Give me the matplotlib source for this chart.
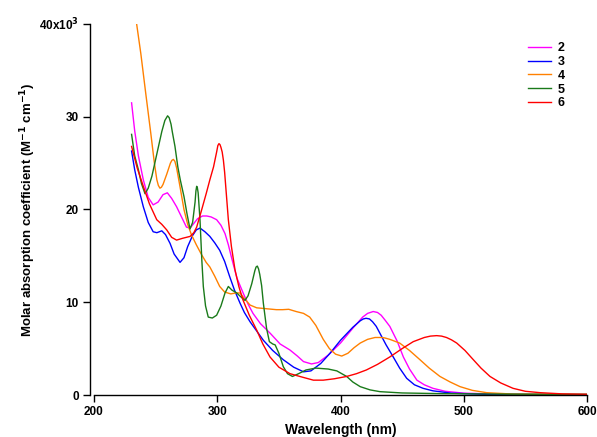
import matplotlib
matplotlib.use("Agg")
import matplotlib.pyplot as plt

# ---- data (wavelength nm, molar absorption coefficient in 10^3 M^-1 cm^-1) ----
wl_2 = [230.5, 233, 236, 240, 244, 248, 252, 256, 259.5, 263, 267, 271, 275, 278, 281, 284, 288,
        291.5, 295, 299.5, 303, 306.3, 309, 312, 316, 321, 325, 329, 335, 343, 351, 359, 365, 370,
        376.5, 382, 390, 400, 410, 418, 422, 426.5, 430, 433, 436, 440, 446, 451, 456, 462, 468, 475,
        485, 500, 530, 600]
eps_2 = [31.5, 28.5, 25.8, 23.2, 21.3, 20.5, 20.8, 21.6, 21.8, 21.2, 20.3, 19.2, 18.1, 18.0, 18.5,
         19.0, 19.3, 19.3, 19.2, 18.9, 18.3, 17.4, 16.2, 14.6, 12.6, 11.0, 9.8, 8.8, 7.7, 6.65, 5.5,
         4.85, 4.2, 3.6, 3.35, 3.5, 4.3, 5.6, 7.2, 8.4, 8.8, 9.0, 8.9, 8.6, 8.1, 7.4, 5.8, 4.1, 2.8,
         1.6, 1.1, 0.72, 0.4, 0.2, 0.08, 0.02]

wl_3 = [230.5, 233, 236, 240, 244, 248, 251, 255, 258, 261.7, 265, 269.8, 273, 276, 280, 283, 286,
        290, 294, 298, 302, 306, 310, 314, 318.5, 322, 326.6, 332, 337.4, 345, 353.6, 362, 370, 376,
        384, 391.5, 400, 410, 416, 418.5, 420.7, 423.5, 426, 429, 432, 437, 442.8, 448, 453.7, 460,
        467, 475, 490, 520, 600]
eps_3 = [26.3, 24.3, 22.4, 20.3, 18.6, 17.6, 17.5, 17.7, 17.3, 16.35, 15.2, 14.3, 14.8, 16.0, 17.2,
         17.8, 18.0, 17.6, 17.1, 16.4, 15.6, 14.4, 12.8, 11.3, 9.9, 8.9, 7.9, 6.9, 5.9, 4.8, 3.8, 3.0,
         2.5, 2.6, 3.4, 4.5, 5.9, 7.3, 8.0, 8.2, 8.27, 8.2, 7.9, 7.4, 6.65, 5.4, 4.1, 2.9, 1.8, 1.1,
         0.72, 0.45, 0.2, 0.06, 0.01]

wl_4 = [234.6, 238, 242, 246, 249, 251, 252.2, 253.5, 254.7, 256, 259, 262, 263.2, 264.4, 265.6,
        267, 270, 273, 276, 279, 283, 287, 291, 294, 298, 302, 306, 311, 315, 318.5, 322, 326.6, 332,
        340, 348, 353, 358, 364, 370, 375, 380, 386, 391, 396, 401, 406, 411, 416, 422, 425, 428, 433,
        436, 440, 448, 456, 464.5, 472, 480.7, 489, 497, 507, 518.6, 540, 600]
eps_4 = [40.0, 36.8, 32.5, 28.3, 25.0, 23.2, 22.6, 22.3, 22.4, 22.7, 23.8, 25.0, 25.3, 25.4, 25.2,
         24.5, 22.3, 20.0, 18.4, 17.3, 16.2, 15.2, 14.3, 13.8, 12.8, 11.7, 11.1, 10.9, 11.0, 11.0,
         10.4, 9.7, 9.4, 9.3, 9.2, 9.2, 9.24, 9.0, 8.8, 8.4, 7.5, 6.0, 5.0, 4.4, 4.2, 4.5, 5.1, 5.6,
         6.0, 6.1, 6.2, 6.2, 6.15, 6.0, 5.6, 4.8, 3.8, 2.9, 2.0, 1.4, 0.9, 0.5, 0.25, 0.1, 0.02]

wl_5 = [230.5, 233, 236, 238.5, 241.4, 244, 247, 251, 255, 257.5, 259.7, 261, 262.5, 263.5, 265.7,
        268, 270, 273, 275.5, 277.9, 280, 282, 282.7, 283.3, 283.8, 284.5, 286, 287.5, 288.7, 290.5,
        292.7, 296, 299.5, 303, 306.3, 309, 312, 315.8, 319, 322.5, 325, 328, 330.5, 331.5, 332.5,
        333.5, 334.5, 336, 337.4, 340, 342.3, 345, 347, 350, 353.6, 357, 361, 366, 372, 380, 390,
        397, 405, 410, 416, 424, 432, 450, 480, 530, 600]
eps_5 = [28.1, 25.8, 24.3, 22.8, 21.7, 22.3, 23.6, 26.0, 28.4, 29.6, 30.1, 29.9, 29.2, 28.4, 26.8,
         24.6, 23.2, 21.4, 19.5, 17.9, 18.6, 20.8, 22.0, 22.5, 22.4, 21.8, 18.9, 14.5, 11.7, 9.6,
         8.4, 8.3, 8.6, 9.6, 11.0, 11.7, 11.3, 11.0, 10.6, 10.2, 10.7, 12.0, 13.4, 13.8, 13.9, 13.6,
         13.0, 11.8, 9.9, 7.2, 5.75, 5.5, 5.4, 4.5, 3.05, 2.3, 2.0, 2.3, 2.7, 2.9, 2.8, 2.6, 2.0, 1.4,
         0.9, 0.55, 0.36, 0.22, 0.15, 0.1, 0.08]

wl_6 = [230.5, 235, 240, 245, 250.9, 255, 259, 263, 267, 272, 278, 281, 283.3, 287, 291, 294, 297,
        299.5, 300.5, 301.4, 302.2, 303, 304, 305, 306, 307, 308, 309, 311.5, 314.4, 317.5, 321, 326,
        332, 337, 342.8, 350, 359, 367, 378, 386, 395, 405, 413, 421, 430, 440, 450, 459, 468, 473,
        478, 482, 486, 490, 494.3, 501, 507.8, 514, 521.3, 530, 540, 550, 562, 580, 600]
eps_6 = [26.8, 24.5, 22.5, 20.6, 18.9, 18.4, 17.8, 17.0, 16.7, 16.9, 17.1, 17.5, 18.1, 19.8, 21.7,
         23.2, 24.6, 26.2, 26.9, 27.1, 27.0, 26.7, 26.2, 25.3, 24.0, 22.3, 20.6, 18.9, 16.0, 13.5,
         11.7, 10.2, 8.6, 7.0, 5.5, 4.1, 3.0, 2.3, 2.0, 1.6, 1.6, 1.75, 2.0, 2.3, 2.7, 3.3, 4.1, 5.0,
         5.75, 6.2, 6.35, 6.4, 6.35, 6.2, 5.95, 5.6, 4.8, 3.8, 2.9, 2.0, 1.3, 0.72, 0.4, 0.25, 0.12,
         0.08]

series_labels = ["2", "3", "4", "5", "6"]
series_colors = ["#FF00FF", "#0000FF", "#FF8000", "#1A7A1A", "#FF0000"]
x_ticks = [200, 300, 400, 500, 600]
y_ticks = [0, 10, 20, 30, 40]
y_ticklabels = ["0", "10", "20", "30", "40x10$^3$"]

plt.rcParams['font.family'] = ['Liberation Sans', 'DejaVu Sans']
plt.rcParams['font.weight'] = 'bold'
plt.rcParams['mathtext.default'] = 'bf'

fig = plt.figure(figsize=(5.97, 4.37), dpi=100)
ax = fig.add_axes([94 / 597, 42 / 437, 493 / 597, 371 / 437])

data = [(wl_2, eps_2), (wl_3, eps_3), (wl_4, eps_4), (wl_5, eps_5), (wl_6, eps_6)]
for (x, y), lab, col in zip(data, series_labels, series_colors):
    ax.plot(x, y, color=col, lw=1.0, label=lab)

ax.set_xlim(200, 600)
ax.set_ylim(0, 40)
ax.set_xticks(x_ticks)
ax.set_yticks(y_ticks)
ax.set_yticklabels(y_ticklabels)
for s in ("top", "right"):
    ax.spines[s].set_visible(False)
ax.spines["left"].set_position(("outward", 3))
for s in ("left", "bottom"):
    ax.spines[s].set_linewidth(1.0)
ax.tick_params(direction="out", length=5, width=1, labelsize=8.5, pad=3)
for t in ax.get_xticklabels() + ax.get_yticklabels():
    t.set_fontweight("bold")

ax.set_xlabel("Wavelength (nm)", fontsize=10, fontweight="bold")
ax.set_ylabel("Molar absorption coefficient (M$^{-1}$ cm$^{-1}$)", fontsize=9.5, fontweight="bold")
ax.xaxis.set_label_coords(0.5, -0.075)
ax.yaxis.set_label_coords(-0.1146, 0.5)

leg = ax.legend(loc="upper left", bbox_to_anchor=(528 / 597, 1 - 42 / 437),
                bbox_transform=fig.transFigure, frameon=False, handlelength=1.8,
                handletextpad=0.6, labelspacing=0.15, borderpad=0, borderaxespad=0,
                prop={"weight": "bold", "size": 9})

fig.savefig("out.png", dpi=100)
